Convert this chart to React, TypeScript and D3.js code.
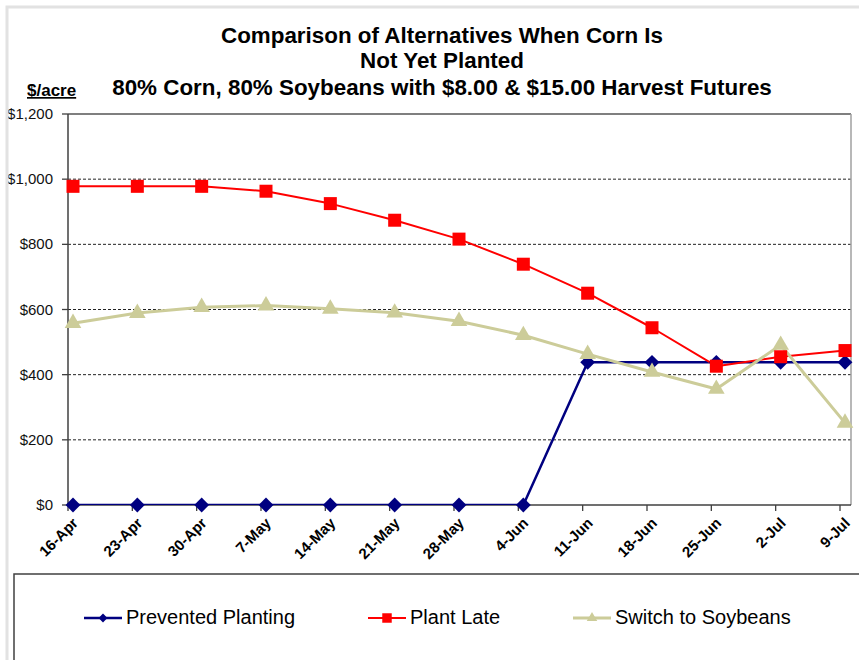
import React from "react";
import * as d3 from "d3";

// chart values
const dates = ["16-Apr", "23-Apr", "30-Apr", "7-May", "14-May", "21-May", "28-May", "4-Jun", "11-Jun", "18-Jun", "25-Jun", "2-Jul", "9-Jul"];
const preventedPlanting = [0, 0, 0, 0, 0, 0, 0, 0, 438, 438, 438, 438, 438];
const plantLate = [978, 978, 978, 963, 925, 874, 816, 739, 650, 544, 426, 455, 474];
const switchToSoybeans = [558, 589, 607, 612, 602, 590, 564, 521, 463, 408, 356, 491, 252];
const yTicks = [0, 200, 400, 600, 800, 1000, 1200];
const titleLines = [
  "Comparison of Alternatives When Corn Is",
  "Not Yet Planted",
  "80% Corn, 80% Soybeans with $8.00 & $15.00 Harvest Futures",
];

const series = [
  { name: "Prevented Planting", values: preventedPlanting, color: "#000080", width: 2.5, shape: d3.symbolDiamond2, size: 140, legendSize: 50 },
  { name: "Plant Late", values: plantLate, color: "#FF0000", width: 2, shape: d3.symbolSquare, size: 169, legendSize: 90 },
  { name: "Switch to Soybeans", values: switchToSoybeans, color: "#CCCC99", width: 3, shape: d3.symbolTriangle, size: 120, legendSize: 48 },
];

export default function App() {
  const width = 859;
  const height = 660;
  const plot = { left: 68, right: 851, top: 114, bottom: 505 };

  const x = d3.scalePoint().domain(dates).range([73, 845]);
  const y = d3.scaleLinear().domain([0, 1200]).range([plot.bottom, plot.top]);
  const fmt = (v) => "$" + d3.format(",")(v);

  const line = d3.line()
    .x((d, i) => x(dates[i]))
    .y((d) => y(d));

  const legendX = [84, 368, 573];

  return (
    <div style={{ position: "fixed", left: 0, top: 0 }}>
      <svg width={width} height={height} style={{ display: "block", background: "#fff" }}
        fontFamily="Arial, 'Liberation Sans', sans-serif">
        <defs>
          <clipPath id="plotClip">
            <rect x={plot.left} y={plot.top} width={plot.right - plot.left} height={plot.bottom - plot.top} />
          </clipPath>
        </defs>

        {/* titles */}
        {titleLines.map((t, i) => (
          <text key={t} x={442} y={[43, 68, 95][i]} textAnchor="middle" fontSize={22.4} fontWeight="bold" fill="#000">{t}</text>
        ))}
        <text x={27} y={96} fontSize={17} fontWeight="bold" textDecoration="underline" fill="#000">$/acre</text>

        {/* gridlines */}
        {yTicks.filter((v) => v > 0 && v < 1200).map((v) => (
          <line key={v} x1={plot.left} x2={plot.right} y1={y(v)} y2={y(v)} stroke="#222" strokeWidth={1} strokeDasharray="3,2" />
        ))}

        {/* plot frame */}
        <line x1={plot.left} x2={plot.right} y1={plot.top} y2={plot.top} stroke="#555" strokeWidth={1.3} />
        <line x1={plot.right} x2={plot.right} y1={plot.top} y2={plot.bottom} stroke="#a0a0a0" strokeWidth={1.5} />

        {/* y axis */}
        <line x1={plot.left} x2={plot.left} y1={plot.top} y2={plot.bottom} stroke="#404040" strokeWidth={1.5} />
        {yTicks.map((v) => (
          <g key={v}>
            <line x1={plot.left - 6} x2={plot.left} y1={y(v)} y2={y(v)} stroke="#404040" strokeWidth={1.3} />
            <text x={53} y={y(v) + 5} textAnchor="end" fontSize={15} fill="#111">{fmt(v)}</text>
          </g>
        ))}

        {/* x axis */}
        <line x1={plot.left} x2={plot.right} y1={plot.bottom} y2={plot.bottom} stroke="#404040" strokeWidth={1.5} />
        {dates.map((d) => (
          <g key={d}>
            <line x1={x(d) - 5} x2={x(d) - 5} y1={plot.bottom} y2={plot.bottom + 6} stroke="#404040" strokeWidth={1.3} />
            <text transform={`translate(${x(d) + 6},${plot.bottom + 19}) rotate(-45)`} textAnchor="end"
              fontSize={15} fontWeight="bold" fill="#000">{d}</text>
          </g>
        ))}

        {/* series lines */}
        <g clipPath="url(#plotClip)">
          {series.map((s) => (
            <path key={s.name} d={line(s.values)} fill="none" stroke={s.color} strokeWidth={s.width} strokeLinejoin="round" />
          ))}
        </g>
        {series.map((s) => (
          <g key={s.name + "-m"}>
            {s.values.map((v, i) => (
              <path key={i} transform={`translate(${x(dates[i])},${y(v)})`}
                d={d3.symbol().type(s.shape).size(s.size)()} fill={s.color} />
            ))}
          </g>
        ))}

        {/* outer chart border */}
        <rect x={7} y={7} width={900} height={700} fill="none" stroke="#e2e2e2" strokeWidth={3} />

        {/* legend */}
        <rect x={14} y={574} width={900} height={200} fill="#fff" stroke="#404040" strokeWidth={1.5} />
        {series.map((s, i) => (
          <g key={s.name + "-l"} transform={`translate(${legendX[i]},618)`}>
            <line x1={0} x2={38} y1={0} y2={0} stroke={s.color} strokeWidth={s.width} />
            <path transform="translate(19,0)" d={d3.symbol().type(s.shape).size(s.legendSize)()} fill={s.color} />
            <text x={42} y={6} fontSize={20} fill="#000">{s.name}</text>
          </g>
        ))}
      </svg>
    </div>
  );
}
